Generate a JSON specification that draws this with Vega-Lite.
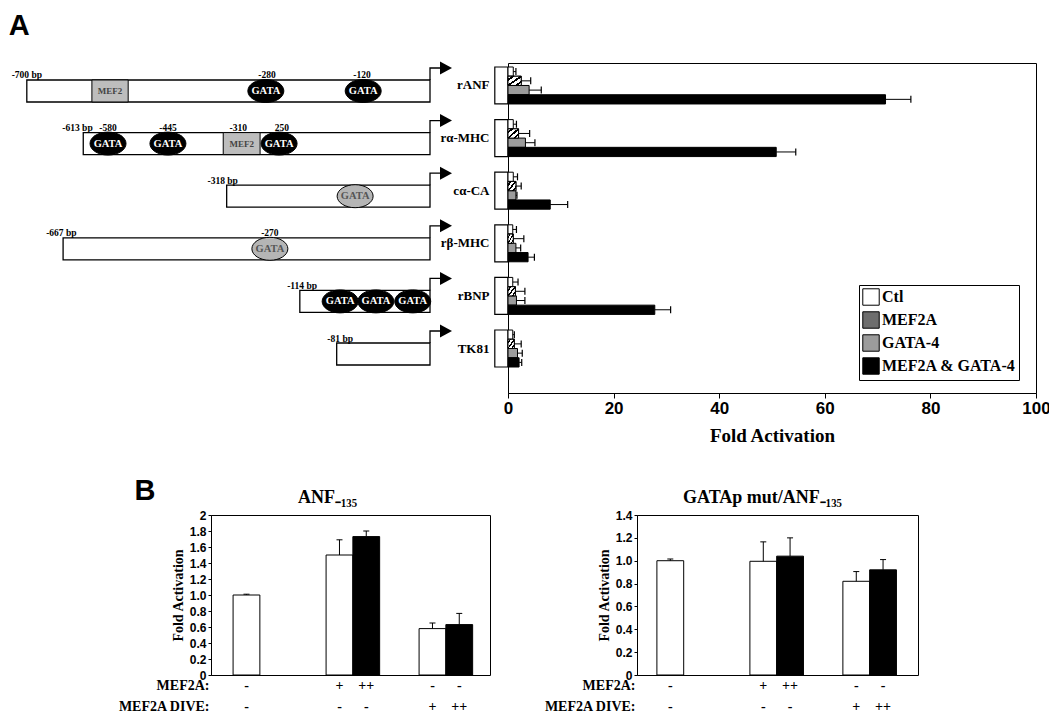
{
  "$schema": "https://vega.github.io/schema/vega-lite/v6.json",
  "background": "white",
  "padding": {"left": 8, "top": 12, "right": 0, "bottom": 0},
  "config": {
    "view": {"stroke": "black", "strokeWidth": 1},
    "font": "Liberation Serif",
    "title": {"font": "Liberation Serif", "fontWeight": "bold", "color": "black"},
    "axis": {"grid": false, "domainColor": "black", "tickColor": "black", "labelColor": "black", "titleColor": "black"},
    "text": {"color": "black"}
  },
  "datasets": {
    "promoters": [
      {"promoter": "rANF", "start": -700},
      {"promoter": "rα-MHC", "start": -602},
      {"promoter": "cα-CA", "start": -353},
      {"promoter": "rβ-MHC", "start": -637},
      {"promoter": "rBNP", "start": -226},
      {"promoter": "TK81", "start": -162}
    ],
    "mef2": [
      {"promoter": "rANF", "from": -587, "to": -524, "center": -555.5},
      {"promoter": "rα-MHC", "from": -359, "to": -295, "center": -327}
    ],
    "sites": [
      {"promoter": "rANF", "pos": -285, "kind": "solid"},
      {"promoter": "rANF", "pos": -116, "kind": "solid"},
      {"promoter": "rα-MHC", "pos": -559, "kind": "solid"},
      {"promoter": "rα-MHC", "pos": -455, "kind": "solid"},
      {"promoter": "rα-MHC", "pos": -262, "kind": "solid"},
      {"promoter": "cα-CA", "pos": -130, "kind": "stippled"},
      {"promoter": "rβ-MHC", "pos": -278, "kind": "stippled"},
      {"promoter": "rBNP", "pos": -156, "kind": "solid"},
      {"promoter": "rBNP", "pos": -94, "kind": "solid"},
      {"promoter": "rBNP", "pos": -30, "kind": "solid"}
    ],
    "labels": [
      {"promoter": "rANF", "pos": -700, "text": "-700 bp"},
      {"promoter": "rANF", "pos": -283, "text": "-280"},
      {"promoter": "rANF", "pos": -118, "text": "-120"},
      {"promoter": "rα-MHC", "pos": -612, "text": "-613 bp"},
      {"promoter": "rα-MHC", "pos": -559, "text": "-580"},
      {"promoter": "rα-MHC", "pos": -455, "text": "-445"},
      {"promoter": "rα-MHC", "pos": -333, "text": "-310"},
      {"promoter": "rα-MHC", "pos": -257, "text": "250"},
      {"promoter": "cα-CA", "pos": -360, "text": "-318 bp"},
      {"promoter": "rβ-MHC", "pos": -640, "text": "-667 bp"},
      {"promoter": "rβ-MHC", "pos": -278, "text": "-270"},
      {"promoter": "rBNP", "pos": -222, "text": "-114 bp"},
      {"promoter": "TK81", "pos": -156, "text": "-81 bp"}
    ],
    "barsA": [
      {"promoter": "rANF", "series": "Ctl", "value": 1.0, "err": 1.5},
      {"promoter": "rANF", "series": "MEF2A", "value": 2.5, "err": 4.3},
      {"promoter": "rANF", "series": "GATA-4", "value": 4.0, "err": 6.3},
      {"promoter": "rANF", "series": "MEF2A & GATA-4", "value": 71.5, "err": 76.3},
      {"promoter": "rα-MHC", "series": "Ctl", "value": 1.0, "err": 1.6},
      {"promoter": "rα-MHC", "series": "MEF2A", "value": 2.0, "err": 4.1},
      {"promoter": "rα-MHC", "series": "GATA-4", "value": 3.3, "err": 5.1},
      {"promoter": "rα-MHC", "series": "MEF2A & GATA-4", "value": 50.8, "err": 54.5},
      {"promoter": "cα-CA", "series": "Ctl", "value": 1.0, "err": 1.8},
      {"promoter": "cα-CA", "series": "MEF2A", "value": 1.5, "err": 2.5},
      {"promoter": "cα-CA", "series": "GATA-4", "value": 1.5, "err": 1.7},
      {"promoter": "cα-CA", "series": "MEF2A & GATA-4", "value": 8.0, "err": 11.3},
      {"promoter": "rβ-MHC", "series": "Ctl", "value": 0.9, "err": 1.6},
      {"promoter": "rβ-MHC", "series": "MEF2A", "value": 1.0, "err": 3.0},
      {"promoter": "rβ-MHC", "series": "GATA-4", "value": 1.5, "err": 2.4},
      {"promoter": "rβ-MHC", "series": "MEF2A & GATA-4", "value": 3.8, "err": 5.0},
      {"promoter": "rBNP", "series": "Ctl", "value": 0.9, "err": 1.9},
      {"promoter": "rBNP", "series": "MEF2A", "value": 1.4, "err": 3.2},
      {"promoter": "rBNP", "series": "GATA-4", "value": 1.6, "err": 3.2},
      {"promoter": "rBNP", "series": "MEF2A & GATA-4", "value": 27.8, "err": 30.8},
      {"promoter": "TK81", "series": "Ctl", "value": 0.9, "err": 1.2},
      {"promoter": "TK81", "series": "MEF2A", "value": 1.2, "err": 2.5},
      {"promoter": "TK81", "series": "GATA-4", "value": 1.8, "err": 2.7},
      {"promoter": "TK81", "series": "MEF2A & GATA-4", "value": 2.1, "err": 2.6}
    ],
    "barsB1": [
      {"group": "Ctl", "slot": "a", "value": 1.0, "err": 1.01},
      {"group": "MEF2A", "slot": "a", "value": 1.5, "err": 1.69},
      {"group": "MEF2A", "slot": "b", "value": 1.73, "err": 1.8},
      {"group": "DIVE", "slot": "a", "value": 0.58, "err": 0.65},
      {"group": "DIVE", "slot": "b", "value": 0.63, "err": 0.77}
    ],
    "barsB2": [
      {"group": "Ctl", "slot": "a", "value": 1.0, "err": 1.015},
      {"group": "MEF2A", "slot": "a", "value": 0.995, "err": 1.165},
      {"group": "MEF2A", "slot": "b", "value": 1.04, "err": 1.2},
      {"group": "DIVE", "slot": "a", "value": 0.82, "err": 0.905},
      {"group": "DIVE", "slot": "b", "value": 0.92, "err": 1.01}
    ],
    "tableB": [
      {"group": "Ctl", "slot": "a", "row": "MEF2A:", "sym": "-"},
      {"group": "Ctl", "slot": "a", "row": "MEF2A DIVE:", "sym": "-"},
      {"group": "MEF2A", "slot": "a", "row": "MEF2A:", "sym": "+"},
      {"group": "MEF2A", "slot": "a", "row": "MEF2A DIVE:", "sym": "-"},
      {"group": "MEF2A", "slot": "b", "row": "MEF2A:", "sym": "++"},
      {"group": "MEF2A", "slot": "b", "row": "MEF2A DIVE:", "sym": "-"},
      {"group": "DIVE", "slot": "a", "row": "MEF2A:", "sym": "-"},
      {"group": "DIVE", "slot": "a", "row": "MEF2A DIVE:", "sym": "+"},
      {"group": "DIVE", "slot": "b", "row": "MEF2A:", "sym": "-"},
      {"group": "DIVE", "slot": "b", "row": "MEF2A DIVE:", "sym": "++"}
    ]
  },
  "spacing": 30,
  "resolve": {"scale": {"fill": "independent", "color": "independent"}, "legend": {"fill": "independent", "color": "independent"}},
  "vconcat": [
    {
      "spacing": -16,
      "resolve": {"scale": {"fill": "independent", "color": "independent"}, "legend": {"fill": "independent", "color": "independent"}},
      "hconcat": [
        {
          "width": 440,
          "height": 330,
          "view": {"stroke": null},
          "title": {"text": "A", "anchor": "start", "font": "Liberation Sans", "fontSize": 29, "fontWeight": "bold", "dx": -3, "offset": 20},
          "encoding": {
            "y": {"field": "promoter", "type": "nominal", "sort": ["rANF", "rα-MHC", "cα-CA", "rβ-MHC", "rBNP", "TK81"], "scale": {"domain": ["rANF", "rα-MHC", "cα-CA", "rβ-MHC", "rBNP", "TK81"], "paddingInner": 0.297, "paddingOuter": 0.285, "align": 0.133}, "axis": null}
          },
          "layer": [
            {
              "data": {"name": "promoters"},
              "mark": {"type": "bar", "fill": "white", "stroke": "black", "strokeWidth": 1.3, "height": 22, "yOffset": 5.5},
              "encoding": {
                "x": {"field": "start", "type": "quantitative", "scale": {"domain": [-720.5, 43.4], "nice": false, "zero": false}, "axis": null},
                "x2": {"datum": 0}
              }
            },
            {
              "data": {"name": "mef2"},
              "mark": {"type": "bar", "fill": "#bdbdbd", "stroke": "black", "strokeWidth": 1, "height": 22, "yOffset": 5.5},
              "encoding": {
                "x": {"field": "from", "type": "quantitative", "scale": {"domain": [-720.5, 43.4], "nice": false, "zero": false}, "axis": null},
                "x2": {"field": "to"}
              }
            },
            {
              "data": {"name": "mef2"},
              "mark": {"type": "text", "text": "MEF2", "font": "Liberation Serif", "fontSize": 9, "fontWeight": "bold", "color": "#444", "baseline": "middle", "yOffset": 5.5},
              "encoding": {
                "x": {"field": "center", "type": "quantitative", "scale": {"domain": [-720.5, 43.4], "nice": false, "zero": false}, "axis": null}
              }
            },
            {
              "data": {"name": "sites"},
              "mark": {"type": "point", "shape": "M-18,0 A18,11.5 0 1,1 18,0 A18,11.5 0 1,1 -18,0 Z", "size": 4, "filled": true, "stroke": "black", "strokeWidth": 1, "opacity": 1, "yOffset": 5.5},
              "encoding": {
                "x": {"field": "pos", "type": "quantitative", "scale": {"domain": [-720.5, 43.4], "nice": false, "zero": false}, "axis": null},
                "fill": {"field": "kind", "type": "nominal", "scale": {"domain": ["solid", "stippled"], "range": ["black", "#b5b5b5"]}, "legend": null}
              }
            },
            {
              "data": {"name": "sites"},
              "mark": {"type": "text", "text": "GATA", "font": "Liberation Serif", "fontSize": 10.5, "fontWeight": "bold", "baseline": "middle", "yOffset": 5.5},
              "encoding": {
                "x": {"field": "pos", "type": "quantitative", "scale": {"domain": [-720.5, 43.4], "nice": false, "zero": false}, "axis": null},
                "color": {"field": "kind", "type": "nominal", "scale": {"domain": ["solid", "stippled"], "range": ["white", "#555"]}, "legend": null}
              }
            },
            {
              "data": {"name": "labels"},
              "mark": {"type": "text", "font": "Liberation Serif", "fontSize": 9.5, "fontWeight": "bold", "baseline": "alphabetic", "yOffset": -7, "color": "black"},
              "encoding": {
                "x": {"field": "pos", "type": "quantitative", "scale": {"domain": [-720.5, 43.4], "nice": false, "zero": false}, "axis": null},
                "text": {"field": "text"}
              }
            },
            {
              "data": {"name": "promoters"},
              "mark": {"type": "point", "shape": "M0,-5.5 L0,-17.5 L11,-17.5", "size": 4, "filled": false, "stroke": "black", "strokeWidth": 1.3, "opacity": 1},
              "encoding": {
                "x": {"datum": 0, "type": "quantitative", "scale": {"domain": [-720.5, 43.4], "nice": false, "zero": false}, "axis": null}
              }
            },
            {
              "data": {"name": "promoters"},
              "mark": {"type": "point", "shape": "M10,-24 L22,-17.5 L10,-11 Z", "size": 4, "filled": true, "fill": "black", "strokeWidth": 0, "opacity": 1},
              "encoding": {
                "x": {"datum": 0, "type": "quantitative", "scale": {"domain": [-720.5, 43.4], "nice": false, "zero": false}, "axis": null}
              }
            }
          ]
        },
        {
          "width": 528,
          "height": 330,
          "encoding": {
            "y": {"field": "promoter", "type": "nominal", "sort": ["rANF", "rα-MHC", "cα-CA", "rβ-MHC", "rBNP", "TK81"], "scale": {"domain": ["rANF", "rα-MHC", "cα-CA", "rβ-MHC", "rBNP", "TK81"], "paddingInner": 0.297, "paddingOuter": 0.285, "align": 0.133}, "axis": {"title": null, "domain": false, "ticks": false, "labelFont": "Liberation Serif", "labelFontWeight": "bold", "labelFontSize": 13, "labelPadding": 19, "labelColor": "black"}}
          },
          "layer": [
            {
              "data": {"name": "promoters"},
              "mark": {"type": "bar", "fill": "white", "fillOpacity": 0, "stroke": "black", "strokeWidth": 1.2},
              "encoding": {
                "x": {"datum": -2.5, "type": "quantitative", "scale": {"domain": [0, 100], "nice": false, "zero": false}, "title": "Fold Activation", "axis": {"title": "Fold Activation", "values": [0, 20, 40, 60, 80, 100], "labelFont": "Liberation Sans", "labelFontWeight": "bold", "labelFontSize": 17, "labelFlush": false, "tickSize": 5, "labelPadding": 2, "titleFont": "Liberation Serif", "titleFontWeight": "bold", "titleFontSize": 19, "titlePadding": 10}},
                "x2": {"datum": 0}
              }
            },
            {
              "data": {"name": "barsA"},
              "mark": {"type": "bar", "stroke": "black", "strokeWidth": 1},
              "encoding": {
                "x": {"field": "value", "type": "quantitative", "scale": {"domain": [0, 100], "nice": false, "zero": false}, "title": "Fold Activation", "axis": {"title": "Fold Activation", "values": [0, 20, 40, 60, 80, 100], "labelFont": "Liberation Sans", "labelFontWeight": "bold", "labelFontSize": 17, "labelFlush": false, "tickSize": 5, "labelPadding": 2, "titleFont": "Liberation Serif", "titleFontWeight": "bold", "titleFontSize": 19, "titlePadding": 10}},
                "yOffset": {"field": "series", "type": "nominal", "sort": ["Ctl", "MEF2A", "GATA-4", "MEF2A & GATA-4"], "scale": {"domain": ["Ctl", "MEF2A", "GATA-4", "MEF2A & GATA-4"], "paddingInner": 0, "paddingOuter": 0}},
                "fill": {
                  "field": "series", "type": "nominal",
                  "scale": {"domain": ["Ctl", "MEF2A", "GATA-4", "MEF2A & GATA-4"], "range": ["white", "#6e6e6e", "#9c9c9c", "black"]},
                  "legend": {"title": null, "orient": "none", "legendX": 351, "legendY": 222, "strokeColor": "black", "padding": 3, "fillColor": "white", "symbolType": "square", "symbolSize": 270, "symbolStrokeColor": "black", "symbolStrokeWidth": 1, "labelFont": "Liberation Serif", "labelFontWeight": "bold", "labelFontSize": 16, "labelColor": "black", "rowPadding": 1, "labelOffset": 2, "symbolOpacity": 1}
                }
              }
            },
            {
              "data": {"name": "barsA"},
              "transform": [{"filter": "datum.series === 'MEF2A'"}],
              "mark": {
                "type": "bar", "stroke": "black", "strokeWidth": 1,
                "fill": {"gradient": "linear", "x1": 0, "y1": 0, "x2": 1, "y2": 1, "stops": [
                  {"offset": 0, "color": "white"}, {"offset": 0.14, "color": "white"},
                  {"offset": 0.14, "color": "black"}, {"offset": 0.26, "color": "black"},
                  {"offset": 0.26, "color": "white"}, {"offset": 0.44, "color": "white"},
                  {"offset": 0.44, "color": "black"}, {"offset": 0.56, "color": "black"},
                  {"offset": 0.56, "color": "white"}, {"offset": 0.74, "color": "white"},
                  {"offset": 0.74, "color": "black"}, {"offset": 0.86, "color": "black"},
                  {"offset": 0.86, "color": "white"}, {"offset": 1, "color": "white"}
                ]}
              },
              "encoding": {
                "x": {"field": "value", "type": "quantitative", "scale": {"domain": [0, 100], "nice": false, "zero": false}, "title": "Fold Activation", "axis": {"title": "Fold Activation", "values": [0, 20, 40, 60, 80, 100], "labelFont": "Liberation Sans", "labelFontWeight": "bold", "labelFontSize": 17, "labelFlush": false, "tickSize": 5, "labelPadding": 2, "titleFont": "Liberation Serif", "titleFontWeight": "bold", "titleFontSize": 19, "titlePadding": 10}},
                "yOffset": {"field": "series", "type": "nominal", "sort": ["Ctl", "MEF2A", "GATA-4", "MEF2A & GATA-4"], "scale": {"domain": ["Ctl", "MEF2A", "GATA-4", "MEF2A & GATA-4"], "paddingInner": 0, "paddingOuter": 0}}
              }
            },
            {
              "data": {"name": "barsA"},
              "mark": {"type": "rule", "color": "black", "strokeWidth": 1},
              "encoding": {
                "x": {"field": "value", "type": "quantitative", "scale": {"domain": [0, 100], "nice": false, "zero": false}, "title": "Fold Activation", "axis": {"title": "Fold Activation", "values": [0, 20, 40, 60, 80, 100], "labelFont": "Liberation Sans", "labelFontWeight": "bold", "labelFontSize": 17, "labelFlush": false, "tickSize": 5, "labelPadding": 2, "titleFont": "Liberation Serif", "titleFontWeight": "bold", "titleFontSize": 19, "titlePadding": 10}},
                "x2": {"field": "err"},
                "yOffset": {"field": "series", "type": "nominal", "sort": ["Ctl", "MEF2A", "GATA-4", "MEF2A & GATA-4"], "scale": {"domain": ["Ctl", "MEF2A", "GATA-4", "MEF2A & GATA-4"], "paddingInner": 0, "paddingOuter": 0}}
              }
            },
            {
              "data": {"name": "barsA"},
              "mark": {"type": "tick", "color": "black", "size": 7, "thickness": 1.2, "opacity": 1, "orient": "vertical"},
              "encoding": {
                "x": {"field": "err", "type": "quantitative", "scale": {"domain": [0, 100], "nice": false, "zero": false}, "title": "Fold Activation", "axis": {"title": "Fold Activation", "values": [0, 20, 40, 60, 80, 100], "labelFont": "Liberation Sans", "labelFontWeight": "bold", "labelFontSize": 17, "labelFlush": false, "tickSize": 5, "labelPadding": 2, "titleFont": "Liberation Serif", "titleFontWeight": "bold", "titleFontSize": 19, "titlePadding": 10}},
                "yOffset": {"field": "series", "type": "nominal", "sort": ["Ctl", "MEF2A", "GATA-4", "MEF2A & GATA-4"], "scale": {"domain": ["Ctl", "MEF2A", "GATA-4", "MEF2A & GATA-4"], "paddingInner": 0, "paddingOuter": 0}}
              }
            }
          ]
        }
      ]
    },
    {
      "spacing": 52,
      "resolve": {"scale": {"fill": "independent", "color": "independent"}, "legend": {"fill": "independent", "color": "independent"}},
      "hconcat": [
        {
          "width": 50,
          "height": 1,
          "view": {"stroke": null},
          "data": {"values": [{"blank": ""}]},
          "mark": {"type": "text"},
          "encoding": {"text": {"field": "blank"}}
        },
        {
          "spacing": -11,
          "bounds": "flush",
          "title": {"text": "B", "anchor": "start", "font": "Liberation Sans", "fontSize": 29, "fontWeight": "bold", "dx": 17, "offset": -17},
          "resolve": {"scale": {"fill": "independent", "color": "independent"}, "legend": {"fill": "independent", "color": "independent"}},
          "vconcat": [
            {
              "width": 279,
              "height": 160,
              "title": {"text": "ANF₋₁₃₅", "fontSize": 18, "offset": 2, "dx": -23},
              "data": {"name": "barsB1"},
              "encoding": {
                "x": {"field": "group", "type": "nominal", "sort": ["Ctl", "MEF2A", "DIVE"], "scale": {"domain": ["Ctl", "MEF2A", "DIVE"], "paddingInner": 0.424, "paddingOuter": 0.212, "align": 0.56}, "axis": null},
                "xOffset": {"field": "slot", "type": "nominal", "scale": {"domain": ["a", "b"], "paddingInner": 0, "paddingOuter": 0}}
              },
              "layer": [
                {
                  "mark": {"type": "bar", "stroke": "black", "strokeWidth": 1},
                  "encoding": {
                    "y": {"field": "value", "type": "quantitative", "scale": {"domain": [0, 2], "nice": false}, "title": "Fold Activation", "axis": {"title": "Fold Activation", "values": [0, 0.2, 0.4, 0.6, 0.8, 1.0, 1.2, 1.4, 1.6, 1.8, 2], "labelExpr": "datum.value == 0 ? '0' : (datum.value == 2 ? '2' : format(datum.value, '.1f'))", "labelOverlap": false, "labelFont": "Liberation Sans", "labelFontWeight": "bold", "labelFontSize": 12, "tickSize": 3, "labelPadding": 2, "titleFont": "Liberation Serif", "titleFontWeight": "bold", "titleFontSize": 14, "titlePadding": 4}},
                    "fill": {"field": "slot", "type": "nominal", "scale": {"domain": ["a", "b"], "range": ["white", "black"]}, "legend": null}
                  }
                },
                {
                  "mark": {"type": "rule", "color": "black", "strokeWidth": 1},
                  "encoding": {
                    "y": {"field": "value", "type": "quantitative", "scale": {"domain": [0, 2], "nice": false}, "title": "Fold Activation", "axis": {"title": "Fold Activation", "values": [0, 0.2, 0.4, 0.6, 0.8, 1.0, 1.2, 1.4, 1.6, 1.8, 2], "labelExpr": "datum.value == 0 ? '0' : (datum.value == 2 ? '2' : format(datum.value, '.1f'))", "labelOverlap": false, "labelFont": "Liberation Sans", "labelFontWeight": "bold", "labelFontSize": 12, "tickSize": 3, "labelPadding": 2, "titleFont": "Liberation Serif", "titleFontWeight": "bold", "titleFontSize": 14, "titlePadding": 4}},
                    "y2": {"field": "err"}
                  }
                },
                {
                  "mark": {"type": "tick", "color": "black", "size": 6, "thickness": 1, "opacity": 1, "orient": "horizontal"},
                  "encoding": {
                    "y": {"field": "err", "type": "quantitative", "scale": {"domain": [0, 2], "nice": false}, "title": "Fold Activation", "axis": {"title": "Fold Activation", "values": [0, 0.2, 0.4, 0.6, 0.8, 1.0, 1.2, 1.4, 1.6, 1.8, 2], "labelExpr": "datum.value == 0 ? '0' : (datum.value == 2 ? '2' : format(datum.value, '.1f'))", "labelOverlap": false, "labelFont": "Liberation Sans", "labelFontWeight": "bold", "labelFontSize": 12, "tickSize": 3, "labelPadding": 2, "titleFont": "Liberation Serif", "titleFontWeight": "bold", "titleFontSize": 14, "titlePadding": 4}}
                  }
                }
              ]
            },
            {
              "width": 279,
              "height": 42,
              "view": {"stroke": null},
              "data": {"name": "tableB"},
              "mark": {"type": "text", "font": "Liberation Serif", "fontSize": 14, "fontWeight": "bold", "color": "black", "baseline": "middle"},
              "encoding": {
                "x": {"field": "group", "type": "nominal", "sort": ["Ctl", "MEF2A", "DIVE"], "scale": {"domain": ["Ctl", "MEF2A", "DIVE"], "paddingInner": 0.424, "paddingOuter": 0.212, "align": 0.56}, "axis": null},
                "xOffset": {"field": "slot", "type": "nominal", "scale": {"domain": ["a", "b"], "paddingInner": 0, "paddingOuter": 0}},
                "y": {"field": "row", "type": "nominal", "sort": ["MEF2A:", "MEF2A DIVE:"], "scale": {"domain": ["MEF2A:", "MEF2A DIVE:"], "paddingInner": 0, "paddingOuter": 0}, "axis": {"title": null, "domain": false, "ticks": false, "labelFont": "Liberation Serif", "labelFontWeight": "bold", "labelFontSize": 14, "labelPadding": 2, "labelColor": "black"}},
                "text": {"field": "sym"}
              }
            }
          ]
        },
        {
          "spacing": -11,
          "bounds": "flush",
          "resolve": {"scale": {"fill": "independent", "color": "independent"}, "legend": {"fill": "independent", "color": "independent"}},
          "vconcat": [
            {
              "width": 281,
              "height": 160,
              "title": {"text": "GATAp mut/ANF₋₁₃₅", "fontSize": 18, "offset": 2, "dx": -15},
              "data": {"name": "barsB2"},
              "encoding": {
                "x": {"field": "group", "type": "nominal", "sort": ["Ctl", "MEF2A", "DIVE"], "scale": {"domain": ["Ctl", "MEF2A", "DIVE"], "paddingInner": 0.424, "paddingOuter": 0.223, "align": 0.48}, "axis": null},
                "xOffset": {"field": "slot", "type": "nominal", "scale": {"domain": ["a", "b"], "paddingInner": 0, "paddingOuter": 0}}
              },
              "layer": [
                {
                  "mark": {"type": "bar", "stroke": "black", "strokeWidth": 1},
                  "encoding": {
                    "y": {"field": "value", "type": "quantitative", "scale": {"domain": [0, 1.4], "nice": false}, "title": "Fold Activation", "axis": {"title": "Fold Activation", "values": [0, 0.2, 0.4, 0.6, 0.8, 1.0, 1.2, 1.4], "labelExpr": "datum.value == 0 ? '0' : format(datum.value, '.1f')", "labelOverlap": false, "labelFont": "Liberation Sans", "labelFontWeight": "bold", "labelFontSize": 12, "tickSize": 3, "labelPadding": 2, "titleFont": "Liberation Serif", "titleFontWeight": "bold", "titleFontSize": 14, "titlePadding": 4}},
                    "fill": {"field": "slot", "type": "nominal", "scale": {"domain": ["a", "b"], "range": ["white", "black"]}, "legend": null}
                  }
                },
                {
                  "mark": {"type": "rule", "color": "black", "strokeWidth": 1},
                  "encoding": {
                    "y": {"field": "value", "type": "quantitative", "scale": {"domain": [0, 1.4], "nice": false}, "title": "Fold Activation", "axis": {"title": "Fold Activation", "values": [0, 0.2, 0.4, 0.6, 0.8, 1.0, 1.2, 1.4], "labelExpr": "datum.value == 0 ? '0' : format(datum.value, '.1f')", "labelOverlap": false, "labelFont": "Liberation Sans", "labelFontWeight": "bold", "labelFontSize": 12, "tickSize": 3, "labelPadding": 2, "titleFont": "Liberation Serif", "titleFontWeight": "bold", "titleFontSize": 14, "titlePadding": 4}},
                    "y2": {"field": "err"}
                  }
                },
                {
                  "mark": {"type": "tick", "color": "black", "size": 6, "thickness": 1, "opacity": 1, "orient": "horizontal"},
                  "encoding": {
                    "y": {"field": "err", "type": "quantitative", "scale": {"domain": [0, 1.4], "nice": false}, "title": "Fold Activation", "axis": {"title": "Fold Activation", "values": [0, 0.2, 0.4, 0.6, 0.8, 1.0, 1.2, 1.4], "labelExpr": "datum.value == 0 ? '0' : format(datum.value, '.1f')", "labelOverlap": false, "labelFont": "Liberation Sans", "labelFontWeight": "bold", "labelFontSize": 12, "tickSize": 3, "labelPadding": 2, "titleFont": "Liberation Serif", "titleFontWeight": "bold", "titleFontSize": 14, "titlePadding": 4}}
                  }
                }
              ]
            },
            {
              "width": 281,
              "height": 42,
              "view": {"stroke": null},
              "data": {"name": "tableB"},
              "mark": {"type": "text", "font": "Liberation Serif", "fontSize": 14, "fontWeight": "bold", "color": "black", "baseline": "middle"},
              "encoding": {
                "x": {"field": "group", "type": "nominal", "sort": ["Ctl", "MEF2A", "DIVE"], "scale": {"domain": ["Ctl", "MEF2A", "DIVE"], "paddingInner": 0.424, "paddingOuter": 0.223, "align": 0.48}, "axis": null},
                "xOffset": {"field": "slot", "type": "nominal", "scale": {"domain": ["a", "b"], "paddingInner": 0, "paddingOuter": 0}},
                "y": {"field": "row", "type": "nominal", "sort": ["MEF2A:", "MEF2A DIVE:"], "scale": {"domain": ["MEF2A:", "MEF2A DIVE:"], "paddingInner": 0, "paddingOuter": 0}, "axis": {"title": null, "domain": false, "ticks": false, "labelFont": "Liberation Serif", "labelFontWeight": "bold", "labelFontSize": 14, "labelPadding": 2, "labelColor": "black"}},
                "text": {"field": "sym"}
              }
            }
          ]
        }
      ]
    }
  ]
}
